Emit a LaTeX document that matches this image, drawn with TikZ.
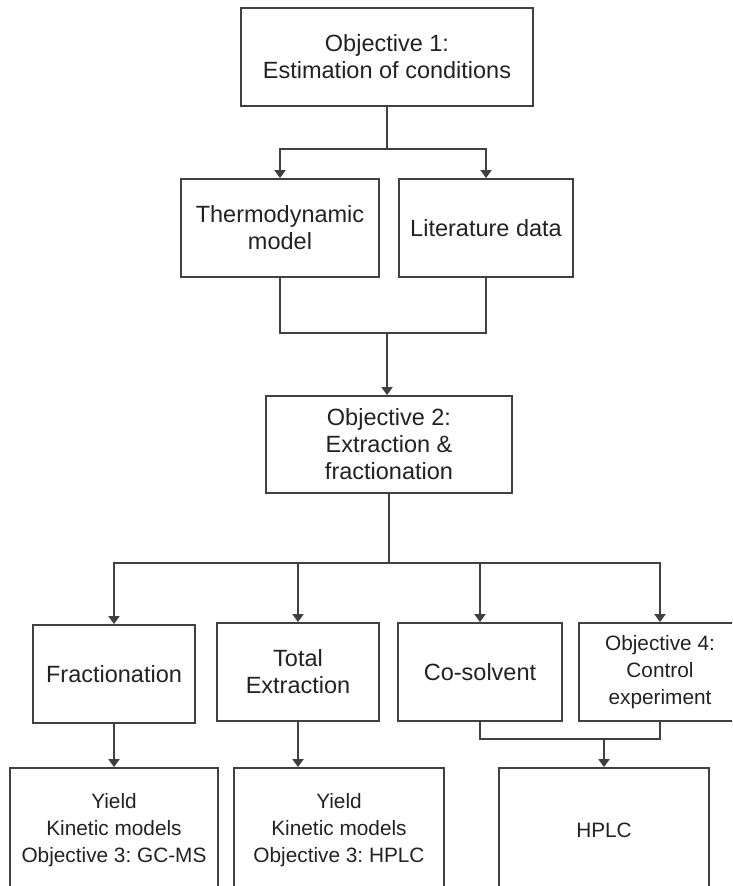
\documentclass[tikz,border=0pt]{standalone}
\usepackage{fontspec}
\setmainfont{Liberation Sans}
\usetikzlibrary{arrows.meta}
\definecolor{linec}{HTML}{404040}
\definecolor{textc}{HTML}{222222}
\frenchspacing
\begin{document}
\begin{tikzpicture}[x=1pt,y=-1pt,
  box/.style={draw=linec,line width=1.8pt,rectangle,inner sep=0pt,align=center,text=textc,
    minimum width=#1,font=\frenchspacing\fontsize{23.5}{27}\selectfont},
  sbox/.style={box=#1,font=\frenchspacing\fontsize{20.8}{27}\selectfont},
  conn/.style={draw=linec,line width=1.8pt},
  arr/.style={conn,-{Triangle[width=11pt,length=8pt]}}]
\useasboundingbox (0,0) rectangle (732,886);
\clip (0,0) rectangle (732,886);
\node[box=292pt,minimum height=98pt] (o1) at (387,57) {Objective 1:\\Estimation of conditions};
\node[box=198pt,minimum height=98pt] (th) at (280,228) {Thermodynamic\\model};
\node[box=174pt,minimum height=98pt] (lit) at (486,228) {Literature data};
\node[box=246pt,minimum height=97pt] (o2) at (389,444.5) {Objective 2:\\Extraction \&\\fractionation};
\node[box=162pt,minimum height=98pt] (fr) at (114,674) {Fractionation};
\node[box=162pt,minimum height=98pt] (te) at (298,672) {Total\\Extraction};
\node[box=164pt,minimum height=98pt] (cs) at (480,672) {Co-solvent};
\node[sbox=162pt,minimum height=98pt] (o4) at (660,672) {Objective 4:\\Control\\experiment};
\node[sbox=208pt,minimum height=124pt] (y1) at (114,830) {Yield\\Kinetic models\\Objective 3: GC-MS};
\node[sbox=210pt,minimum height=124pt] (y2) at (339,830) {Yield\\Kinetic models\\Objective 3: HPLC};
\node[sbox=210pt,minimum height=124pt] (hp) at (604,830) {HPLC};
% connectors
\coordinate (s1) at (387,149);
\draw[conn] (o1.south) -- (s1);
\draw[arr] (s1) -| (th.north);
\draw[arr] (s1) -| (lit.north);
\coordinate (j1) at (387,333);
\draw[conn] (th.south) |- (j1);
\draw[conn] (lit.south) |- (j1);
\draw[arr] (j1) -- (j1 |- o2.north);
\coordinate (s2) at (389,563);
\draw[conn] (o2.south) -- (s2);
\draw[arr] (s2) -| (fr.north);
\draw[arr] (s2) -| (te.north);
\draw[arr] (s2) -| (cs.north);
\draw[arr] (s2) -| (o4.north);
\coordinate (j2) at (604,739);
\draw[conn] (cs.south) |- (j2);
\draw[conn] (o4.south) |- (j2);
\draw[arr] (j2) -- (hp.north);
\draw[arr] (fr.south) -- (y1.north);
\draw[arr] (te.south) -- (y2.north -| te.south);
\end{tikzpicture}
\end{document}
